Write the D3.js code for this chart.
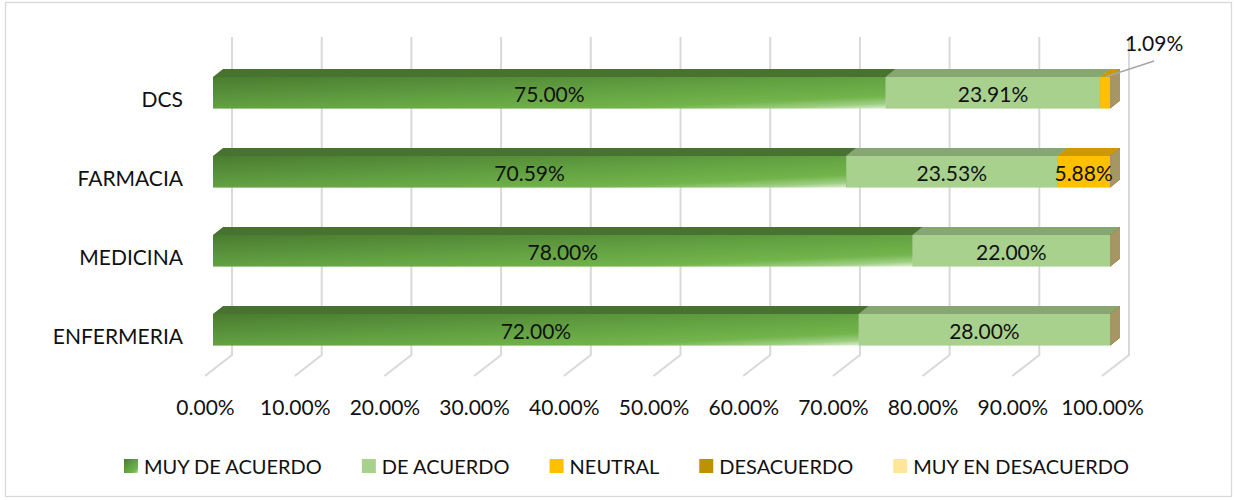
<!doctype html>
<html lang="es">
<head>
    <meta charset="UTF-8">
    <title>Grado de acuerdo por escuela</title>
    <script type="text/javascript" src="https://cdn.jsdelivr.net/npm/d3@7"></script>
    <style type="text/css">
        body {
            margin: 0;
            background-color: #ffffff;
        }

        text {
            font-family: Lato, "Open Sans", sans-serif;
            fill: #111111;
        }
    </style>
</head>
<body>
<script type="text/javascript">

    var w = 1235;
    var h = 500;

    // data
    var categories = ["DCS", "FARMACIA", "MEDICINA", "ENFERMERIA"];
    var seriesNames = ["MUY DE ACUERDO", "DE ACUERDO", "NEUTRAL", "DESACUERDO", "MUY EN DESACUERDO"];
    var muyDeAcuerdo = [75.00, 70.59, 78.00, 72.00];
    var deAcuerdo = [23.91, 23.53, 22.00, 28.00];
    var neutral = [1.09, 5.88, 0, 0];
    var desacuerdo = [0, 0, 0, 0];
    var muyEnDesacuerdo = [0, 0, 0, 0];
    var tickValues = [0, 10, 20, 30, 40, 50, 60, 70, 80, 90, 100];

    var colors = ["url(#gradGreen)", "#a9d18e", "#ffc000", "#bf9000", "#ffe699"];
    var topColors = ["#47722f", "#87a772", "#cc9a00", "#997300", "#ccb87a"];
    var sideColors = ["#3d6328", "#6e885d", "#a67d00", "#7c5e00", "#a69663"];

    // table for d3.stack
    var table = categories.map(function (c, i) {
        return {
            cat: c,
            s0: muyDeAcuerdo[i],
            s1: deAcuerdo[i],
            s2: neutral[i],
            s3: desacuerdo[i],
            s4: muyEnDesacuerdo[i]
        };
    });
    var stacked = d3.stack().keys(["s0", "s1", "s2", "s3", "s4"])(table);

    // 3d offsets
    var dx = 10, dy = 8;          // bar depth
    var wallDx = 19;              // back wall offset
    var gridTop = 37, gridBottom = 355;
    var floorDx = -27, floorDy = 21;

    var xScale = d3.scaleLinear()
        .domain([0, 100])
        .range([213, 1110]);

    var yScale = d3.scaleBand()
        .domain(categories)
        .range([53.3, 369.3])
        .paddingInner(0.6)
        .paddingOuter(0.3);

    var svg = d3.select("body")
        .append("svg")
        .attr("width", w)
        .attr("height", h);

    var defs = svg.append("defs");
    var grad = defs.append("linearGradient")
        .attr("id", "gradGreen")
        .attr("x1", 0).attr("y1", 0).attr("x2", 1).attr("y2", 1);
    [[0, "#4a7c30"], [0.5, "#63a142"], [0.8, "#72b54b"], [0.92, "#9fce84"], [1, "#dcefcf"]]
        .forEach(function (s) {
            grad.append("stop").attr("offset", s[0]).attr("stop-color", s[1]);
        });

    // chart border
    svg.append("rect")
        .attr("x", 5.5).attr("y", 2.5)
        .attr("width", 1226).attr("height", 494)
        .attr("fill", "none")
        .attr("stroke", "#d9d9d9")
        .attr("stroke-width", 1.3);

    // back wall + floor gridlines
    svg.append("g")
        .selectAll("path")
        .data(tickValues)
        .enter()
        .append("path")
        .attr("d", function (d) {
            var xb = xScale(d) + wallDx;
            return "M" + xb + "," + gridTop + "V" + gridBottom + "L" + (xb + floorDx) + "," + (gridBottom + floorDy);
        })
        .attr("fill", "none")
        .attr("stroke", "#d9d9d9")
        .attr("stroke-width", 2);

    // x axis along the front edge of the floor
    var xAxis = d3.axisBottom()
        .scale(xScale)
        .tickValues(tickValues)
        .tickSize(0)
        .tickPadding(0)
        .tickFormat(function (d) {
            return d.toFixed(2) + "%";
        });

    var axisG = svg.append("g")
        .attr("transform", "translate(" + (wallDx + floorDx) + ",400)")
        .call(xAxis);
    axisG.select(".domain").remove();
    axisG.selectAll("text")
        .attr("font-family", null)
        .attr("font-size", "21px")
        .style("fill", "#111");

    // category labels
    svg.append("g")
        .selectAll("text")
        .data(categories)
        .enter()
        .append("text")
        .text(function (d) {
            return d;
        })
        .attr("x", 183)
        .attr("y", function (d) {
            return yScale(d) + 30;
        })
        .attr("text-anchor", "end")
        .attr("font-size", "21px");

    // bars, one series after the other so later sides cover earlier ones
    var bh = yScale.bandwidth();
    var barsG = svg.append("g");
    stacked.forEach(function (layer, si) {
        var g = barsG.append("g");
        // right side face
        g.selectAll("path.side")
            .data(layer)
            .enter()
            .append("path")
            .attr("class", "side")
            .attr("d", function (d) {
                var x1 = xScale(d[1]), y = yScale(d.data.cat);
                return "M" + x1 + "," + y + "L" + (x1 + dx) + "," + (y - dy) +
                    "L" + (x1 + dx) + "," + (y + bh - dy) + "L" + x1 + "," + (y + bh) + "Z";
            })
            .attr("fill", sideColors[si]);
        // top face
        g.selectAll("path.top")
            .data(layer)
            .enter()
            .append("path")
            .attr("class", "top")
            .attr("d", function (d) {
                var x0 = xScale(d[0]), x1 = xScale(d[1]), y = yScale(d.data.cat);
                return "M" + x0 + "," + y + "L" + (x0 + dx) + "," + (y - dy) +
                    "L" + (x1 + dx) + "," + (y - dy) + "L" + x1 + "," + y + "Z";
            })
            .attr("fill", topColors[si]);
        // front face
        g.selectAll("rect")
            .data(layer)
            .enter()
            .append("rect")
            .attr("x", function (d) {
                return xScale(d[0]);
            })
            .attr("y", function (d) {
                return yScale(d.data.cat);
            })
            .attr("width", function (d) {
                return xScale(d[1]) - xScale(d[0]);
            })
            .attr("height", bh)
            .attr("fill", colors[si]);
    });

    // data labels
    var labelsG = svg.append("g");
    stacked.forEach(function (layer) {
        layer.forEach(function (d) {
            var v = d[1] - d[0];
            if (v <= 0) return;
            var mid = (xScale(d[0]) + xScale(d[1])) / 2;
            var y = yScale(d.data.cat);
            var txt = v.toFixed(2) + "%";
            if (v >= 3) {
                labelsG.append("text")
                    .text(txt)
                    .attr("x", mid)
                    .attr("y", y + 25)
                    .attr("text-anchor", "middle")
                    .attr("font-size", "21px");
            } else {
                // small value: label outside with leader line
                labelsG.append("line")
                    .attr("x1", mid).attr("y1", y)
                    .attr("x2", mid + 49).attr("y2", y - 16)
                    .attr("stroke", "#a6a6a6")
                    .attr("stroke-width", 1.5);
                labelsG.append("text")
                    .text(txt)
                    .attr("x", mid + 49)
                    .attr("y", y - 26)
                    .attr("text-anchor", "middle")
                    .attr("font-size", "21px");
            }
        });
    });

    // legend
    var legendG = svg.append("g");
    var lx = 124;
    seriesNames.forEach(function (name, i) {
        legendG.append("rect")
            .attr("x", lx).attr("y", 459)
            .attr("width", 14).attr("height", 14)
            .attr("fill", colors[i]);
        var t = legendG.append("text")
            .text(name)
            .attr("x", lx + 20)
            .attr("y", 474)
            .attr("font-size", "20px");
        lx = lx + 20 + t.node().getComputedTextLength() + 40;
    });

</script>

</body>
</html>
